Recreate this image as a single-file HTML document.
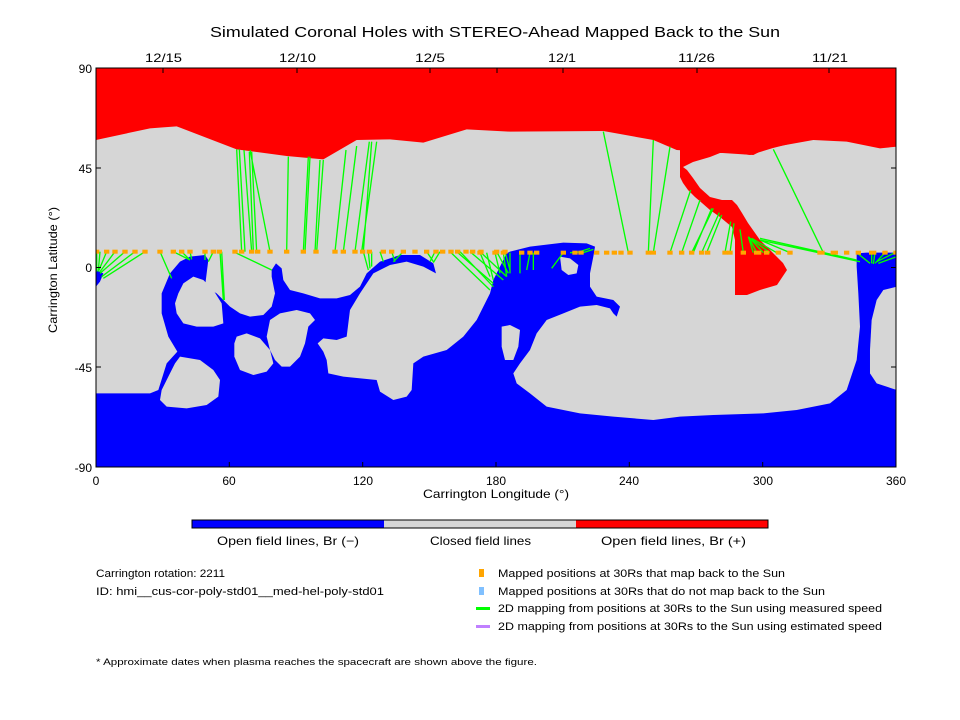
<!DOCTYPE html>
<html><head><meta charset="utf-8"><style>
html,body{margin:0;padding:0;background:#fff;}
svg{display:block;}
text{font-family:"Liberation Sans",sans-serif;fill:#000;}
</style></head><body>
<svg width="960" height="720" viewBox="0 0 960 720" xmlns="http://www.w3.org/2000/svg">
<defs><clipPath id="c"><rect x="96" y="68" width="800" height="399"/></clipPath></defs>
<text x="210" y="37" font-size="15" textLength="570" lengthAdjust="spacingAndGlyphs">Simulated Coronal Holes with STEREO-Ahead Mapped Back to the Sun</text>
<g clip-path="url(#c)">
<rect x="96" y="68" width="800" height="399" fill="#d6d6d6"/>
<g transform="translate(90,60) scale(0.33333)">
<polygon fill="#0000ff" points="18,1221 18,1000 180,1000 205,990 230,910 262,875 235,830 215,760 215,700 240,640 270,605 300,590 345,585 355,600 345,680 380,700 400,720 420,740 450,760 480,770 520,765 545,740 555,700 545,650 545,630 558,610 575,625 580,660 600,690 640,700 690,715 740,715 780,705 810,680 830,640 870,605 930,585 990,585 1030,610 1038,640 1000,620 950,605 900,615 850,640 810,700 780,750 770,830 740,840 700,835 683,850 700,875 710,900 715,940 760,950 860,960 870,995 910,1020 950,1010 965,990 970,910 1000,890 1070,870 1120,830 1160,780 1200,700 1210,660 1230,620 1250,580 1260,575 1320,560 1420,548 1490,550 1515,560 1510,590 1500,640 1500,680 1520,710 1570,720 1590,740 1580,770 1570,760 1560,745 1520,735 1470,740 1420,760 1370,780 1340,820 1320,870 1290,910 1270,940 1280,970 1320,1000 1370,1040 1470,1060 1570,1070 1690,1080 1770,1070 1870,1065 2020,1060 2120,1050 2220,1030 2270,990 2300,900 2310,800 2305,700 2300,620 2300,580 2330,578 2418,578 2418,1221"/>
<polygon fill="#0000ff" points="18,630 40,640 30,665 18,680"/>
<g fill="#d6d6d6">
<polygon points="270,890 330,900 370,930 390,960 385,1010 350,1035 290,1045 230,1040 210,1020 215,990 235,950 255,910"/>
<polygon points="265,700 280,670 310,650 340,660 370,690 395,730 400,790 370,800 320,800 280,790 260,760 255,730"/>
<polygon points="440,830 470,820 510,835 540,870 550,910 530,935 490,945 450,930 433,890 433,850"/>
<polygon points="540,780 570,760 620,750 660,760 675,780 655,800 645,850 630,890 600,920 575,920 555,900 540,870 530,830"/>
<polygon points="1410,590 1440,595 1465,615 1460,640 1435,645 1415,630"/>
<polygon points="1235,800 1260,795 1290,810 1285,860 1270,900 1245,900 1235,860"/>
<polygon points="2420,680 2380,690 2360,720 2345,780 2340,870 2340,940 2360,970 2420,990"/>
</g>
<polygon fill="#ff0000" points="18,24 2420,24 2420,260 2370,265 2270,245 2170,240 2030,265 1990,285 1760,270 1690,240 1540,213 1260,215 1130,208 1000,248 900,238 800,240 700,298 590,288 440,268 260,199 180,205 18,240"/>
</g>
<polygon fill="#ff0000" points="677,135 680,143 680,177 683,183 688,190 695,197 702,203 710,210 720,217 732,227 735,240 735,295 747,295 760,290 777,285 787,270 783,263 773,253 760,240 748,223 742,213 737,205 732,200 722,200 710,197 700,188 693,178 687,170 683,167 693,162 710,157 720,153 737,153 750,155 760,152 773,148 793,143 800,135"/>
<g transform="translate(90,60) scale(0.33333)" stroke="#00ff00" stroke-width="4" fill="none">
<path d="M455,575L440,268M465,575L448,268M485,575L462,270M490,575L478,275M500,575L485,275M540,575L480,270M590,575L595,290M640,575L655,290M645,575L660,290M675,575L690,300M680,575L700,300M735,575L768,270M760,575L800,258M795,575L838,245M815,575L860,245M820,575L845,245"/>
<path d="M20,575L20,635M30,575L25,632M50,575L25,635M75,575L30,635M105,575L30,640M135,575L35,650M165,575L40,655M210,575L245,655M250,575L300,600M275,575L300,600M300,575L305,598M345,575L345,600M370,575L355,605M390,575L400,720M395,575L403,720M430,575L545,630M820,575L835,630M835,575L840,625M845,575L845,620M870,575L880,605M905,575L915,605M940,575L910,605M1010,575L1030,605M1035,575L1020,605M1050,575L1030,608M1080,575L1200,690M1110,575L1210,680M1140,575L1240,660M1170,575L1250,650M1220,575L1255,640M1245,575L1260,630M1100,575L1210,670"/>
<path d="M1615,578L1540,215M1675,578L1690,240M1690,578L1740,260M1740,578L1802,390M1775,578L1830,420M1805,578L1870,445M1810,578L1865,445M1835,578L1888,458M1850,578L1895,465M1905,578L1922,485M1920,578L1932,490M1960,578L1950,508M1990,578L1975,530M2000,578L1975,530M2020,578L1975,530M2040,578L1980,535M2060,578L1985,535M2200,578L2050,268M2010,535L2300,600M2010,540L2310,605M2100,578L2010,540"/>
<path d="M1170,578L1200,650M1190,578L1210,660M1215,578L1230,640M1240,578L1250,650M1260,578L1260,640M1290,578L1290,640M1320,578L1310,630M1330,578L1330,630M1420,578L1385,625M1440,578L1480,575M1460,578L1500,565M1480,578L1510,568M2300,578L2340,610M2345,578L2345,610M2355,578L2350,612M2385,578L2355,610M2415,578L2360,605M2420,590L2365,610"/>
</g>
<g transform="translate(90,60) scale(0.33333)" fill="#ffa500">
<g>
<rect x="12" y="569" width="16" height="12"/><rect x="42" y="569" width="16" height="12"/><rect x="67" y="569" width="16" height="12"/><rect x="97" y="569" width="16" height="12"/><rect x="127" y="569" width="16" height="12"/><rect x="157" y="569" width="16" height="12"/><rect x="202" y="569" width="16" height="12"/><rect x="242" y="569" width="16" height="12"/><rect x="267" y="569" width="16" height="12"/><rect x="292" y="569" width="16" height="12"/><rect x="337" y="569" width="16" height="12"/><rect x="362" y="569" width="16" height="12"/><rect x="380" y="569" width="16" height="12"/><rect x="427" y="569" width="16" height="12"/><rect x="447" y="569" width="16" height="12"/><rect x="477" y="569" width="16" height="12"/><rect x="495" y="569" width="16" height="12"/><rect x="532" y="569" width="16" height="12"/><rect x="582" y="569" width="16" height="12"/><rect x="632" y="569" width="16" height="12"/><rect x="670" y="569" width="16" height="12"/><rect x="727" y="569" width="16" height="12"/><rect x="752" y="569" width="16" height="12"/><rect x="787" y="569" width="16" height="12"/><rect x="810" y="569" width="16" height="12"/><rect x="830" y="569" width="16" height="12"/><rect x="872" y="569" width="16" height="12"/><rect x="897" y="569" width="16" height="12"/><rect x="932" y="569" width="16" height="12"/><rect x="967" y="569" width="16" height="12"/><rect x="1002" y="569" width="16" height="12"/><rect x="1030" y="569" width="16" height="12"/><rect x="1050" y="569" width="16" height="12"/><rect x="1075" y="569" width="16" height="12"/><rect x="1095" y="569" width="16" height="12"/><rect x="1120" y="569" width="16" height="12"/><rect x="1140" y="569" width="16" height="12"/><rect x="1165" y="569" width="16" height="12"/><rect x="1212" y="569" width="16" height="12"/><rect x="1237" y="569" width="16" height="12"/>
</g>
<g transform="translate(1170,3)">
<rect x="-8" y="569" width="16" height="12"/><rect x="37" y="569" width="16" height="12"/><rect x="62" y="569" width="16" height="12"/><rect x="117" y="569" width="16" height="12"/><rect x="142" y="569" width="16" height="12"/><rect x="162" y="569" width="16" height="12"/><rect x="242" y="569" width="16" height="12"/><rect x="277" y="569" width="16" height="12"/><rect x="295" y="569" width="16" height="12"/><rect x="342" y="569" width="16" height="12"/><rect x="372" y="569" width="16" height="12"/><rect x="395" y="569" width="16" height="12"/><rect x="415" y="569" width="16" height="12"/><rect x="442" y="569" width="16" height="12"/><rect x="497" y="569" width="16" height="12"/><rect x="512" y="569" width="16" height="12"/><rect x="562" y="569" width="16" height="12"/><rect x="597" y="569" width="16" height="12"/><rect x="627" y="569" width="16" height="12"/><rect x="657" y="569" width="16" height="12"/><rect x="675" y="569" width="16" height="12"/><rect x="727" y="569" width="16" height="12"/><rect x="742" y="569" width="16" height="12"/><rect x="782" y="569" width="16" height="12"/><rect x="822" y="569" width="22" height="12"/><rect x="852" y="569" width="16" height="12"/><rect x="887" y="569" width="16" height="12"/><rect x="922" y="569" width="16" height="12"/><rect x="1012" y="569" width="22" height="12"/><rect x="1052" y="569" width="22" height="12"/><rect x="1092" y="569" width="16" height="12"/><rect x="1127" y="569" width="16" height="12"/><rect x="1167" y="569" width="22" height="12"/><rect x="1207" y="569" width="16" height="12"/><rect x="1240" y="569" width="16" height="12"/>
</g>
</g>
</g>
<rect x="96" y="68" width="800" height="399" fill="none" stroke="#000" stroke-width="1"/>
<g stroke="#000" stroke-width="1">
<path d="M229.3,467v-5M362.7,467v-5M496,467v-5M629.3,467v-5M762.7,467v-5M96,168h5M96,267.5h5M96,367h5M896,168h-5M896,267.5h-5M896,367h-5M163,68v5M297,68v5M430,68v5M497,68v5M563,68v5M697,68v5M829,68v5"/>
</g>
<g font-size="12" text-anchor="middle">
<text x="96" y="485">0</text><text x="229" y="485">60</text><text x="363" y="485">120</text><text x="496" y="485">180</text><text x="629" y="485">240</text><text x="763" y="485">300</text><text x="896" y="485">360</text>
</g>
<g font-size="12">
<text x="145" y="62" textLength="37" lengthAdjust="spacingAndGlyphs">12/15</text>
<text x="279" y="62" textLength="37" lengthAdjust="spacingAndGlyphs">12/10</text>
<text x="415" y="62" textLength="30" lengthAdjust="spacingAndGlyphs">12/5</text>
<text x="548" y="62" textLength="28" lengthAdjust="spacingAndGlyphs">12/1</text>
<text x="678" y="62" textLength="37" lengthAdjust="spacingAndGlyphs">11/26</text>
<text x="812" y="62" textLength="36" lengthAdjust="spacingAndGlyphs">11/21</text>
<text x="423" y="498" textLength="146" lengthAdjust="spacingAndGlyphs">Carrington Longitude (°)</text>
<text transform="translate(57,333) rotate(-90)" textLength="126" lengthAdjust="spacingAndGlyphs">Carrington Latitude (°)</text>
</g>
<g font-size="12" text-anchor="end">
<text x="92" y="73">90</text><text x="92" y="173">45</text><text x="92" y="272">0</text><text x="92" y="372">-45</text><text x="92" y="472">-90</text>
</g>
<rect x="192" y="520" width="192" height="8" fill="#0000ff"/>
<rect x="384" y="520" width="192" height="8" fill="#d6d6d6"/>
<rect x="576" y="520" width="192" height="8" fill="#ff0000"/>
<rect x="192" y="520" width="576" height="8" fill="none" stroke="#000" stroke-width="1"/>
<g font-size="12">
<text x="217" y="545" textLength="142" lengthAdjust="spacingAndGlyphs">Open field lines, Br (−)</text>
<text x="430" y="545" textLength="101" lengthAdjust="spacingAndGlyphs">Closed field lines</text>
<text x="601" y="545" textLength="145" lengthAdjust="spacingAndGlyphs">Open field lines, Br (+)</text>
</g>
<g font-size="11">
<text x="96" y="577" textLength="129" lengthAdjust="spacingAndGlyphs">Carrington rotation: 2211</text>
<text x="96" y="595" textLength="288" lengthAdjust="spacingAndGlyphs">ID: hmi__cus-cor-poly-std01__med-hel-poly-std01</text>
<text x="498" y="577" textLength="287" lengthAdjust="spacingAndGlyphs">Mapped positions at 30Rs that map back to the Sun</text>
<text x="498" y="595" textLength="327" lengthAdjust="spacingAndGlyphs">Mapped positions at 30Rs that do not map back to the Sun</text>
<text x="498" y="612" textLength="384" lengthAdjust="spacingAndGlyphs">2D mapping from positions at 30Rs to the Sun using measured speed</text>
<text x="498" y="630" textLength="384" lengthAdjust="spacingAndGlyphs">2D mapping from positions at 30Rs to the Sun using estimated speed</text>
<text x="96" y="665" font-size="9.5" textLength="441" lengthAdjust="spacingAndGlyphs">* Approximate dates when plasma reaches the spacecraft are shown above the figure.</text>
</g>
<rect x="479" y="569" width="5" height="8" fill="#ffa500"/>
<rect x="479" y="587" width="5" height="8" fill="#80c0ff"/>
<rect x="476" y="607" width="14" height="3" fill="#00ff00"/>
<rect x="476" y="625" width="14" height="3" fill="#c080ff"/>
</svg>
</body></html>
